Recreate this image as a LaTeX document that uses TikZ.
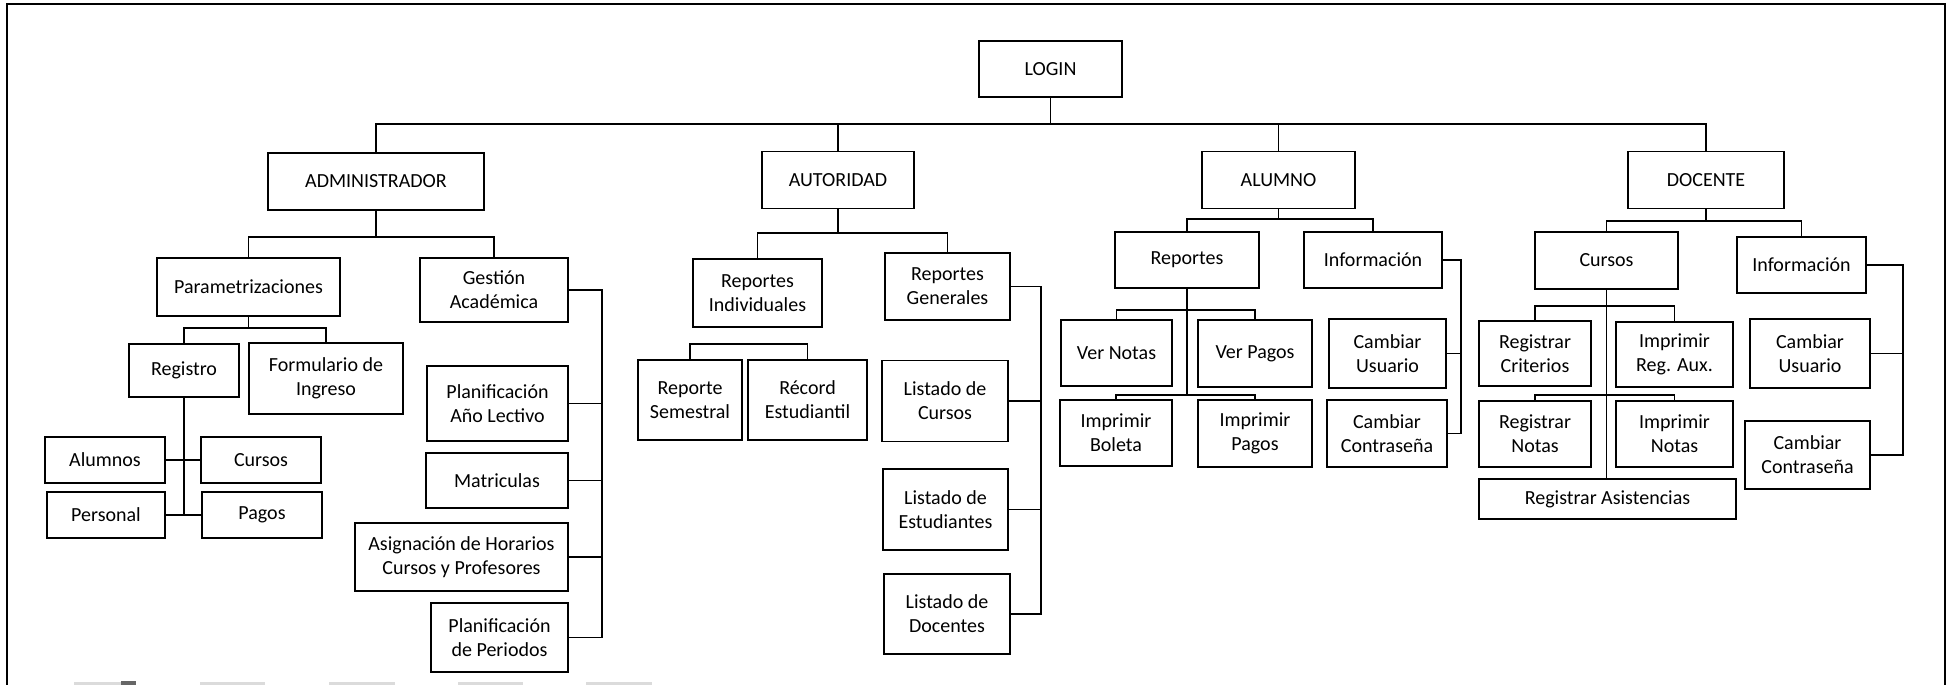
\documentclass[tikz,border=0pt]{standalone}
\usepackage{fontspec}
\setmainfont{Carlito}
\begin{document}
\begin{tikzpicture}[x=0.5pt,y=-0.5pt,
  box/.style={draw,line width=0.9pt,align=center,inner sep=0pt,
    font=\fontsize{10}{12}\selectfont},
  wh/.style 2 args={minimum width=#1*0.5pt,minimum height=#2*0.5pt},
  link/.style={line width=0.75pt},
  frame/.style={line width=1pt},
  stub/.style={fill=black!14}]
\useasboundingbox (0,0) rectangle (1954,685);

% page frame (open at the bottom)
\draw[frame] (7,685) -- (7,4) -- (1945,4) -- (1945,685);
% bits of the next row cut off at the lower edge
\fill[stub] (74,682) rectangle (134,685);
\fill[black!60] (121,681) rectangle (136,685);
\fill[stub] (200,682) rectangle (265,685);
\fill[stub] (329,682) rectangle (395,685);
\fill[stub] (458,682) rectangle (523,685);
\fill[stub] (586,682) rectangle (652,685);

% ---------- root and roles ----------
\node[box,wh={143}{56}] (login) at (1050.5,69) {LOGIN};
\node[box,wh={216}{57}] (admin) at (376,181.5) {ADMINISTRADOR};
\node[box,wh={152}{57}] (autor) at (838,180) {AUTORIDAD};
\node[box,wh={153}{57}] (alumno) at (1278.5,180) {ALUMNO};
\node[box,wh={156}{57}] (docente) at (1706,180) {DOCENTE};

\coordinate (b0) at (1050.5,124);
\draw[link] (login.south) -- (b0);
\draw[link] (admin.north) |- (b0) -| (docente.north);
\draw[link] (autor.north) -- (autor.north |- b0);
\draw[link] (alumno.north) -- (alumno.north |- b0);

% ---------- ADMINISTRADOR ----------
\node[box,wh={183}{58}] (param) at (248.5,287) {Parametrizaciones};
\node[box,wh={148}{64}] (gestion) at (494,290) {Gestión\\Académica};
\coordinate (b1) at (376,237);
\draw[link] (admin.south) -- (b1);
\draw[link] (param.north) |- (b1) -| (gestion.north);

\node[box,wh={110}{53}] (registro) at (184,370.5) {Registro};
\node[box,wh={154}{71}] (formulario) at (326,378.5) {Formulario de\\Ingreso};
\coordinate (b2) at (248.5,328);
\draw[link] (param.south) -- (b2);
\draw[link] (registro.north) |- (b2) -| (formulario.north);

\node[box,wh={120}{46}] (alumnos) at (105,460) {Alumnos};
\node[box,wh={120}{46}] (cursosA) at (261,460) {Cursos};
\node[box,wh={118}{46}] (personal) at (106,515) {Personal};
\node[box,wh={120}{46}] (pagos) at (262,515) {Pagos};
\draw[link] (registro.south) -- (registro.south |- personal.east);
\draw[link] (alumnos.east) -- (cursosA.west);
\draw[link] (personal.east) -- (pagos.west);

\node[box,wh={141}{75}] (planAL) at (497.5,403.5) {Planificación\\Año Lectivo};
\node[box,wh={142}{55}] (matric) at (497,480.5) {Matriculas};
\node[box,wh={213}{68}] (asign) at (461.5,557) {Asignación de Horarios\\Cursos y Profesores};
\node[box,wh={137}{69}] (planPer) at (499.5,637.5) {Planificación\\de Periodos};
\coordinate (gx) at (602,0);
\draw[link] (gestion.east) -- (gestion.east -| gx) |- (planPer.east);
\draw[link] (planAL.east) -- (planAL.east -| gx);
\draw[link] (matric.east) -- (matric.east -| gx);
\draw[link] (asign.east) -- (asign.east -| gx);

% ---------- AUTORIDAD ----------
\node[box,wh={129}{68}] (repInd) at (757.5,293) {Reportes\\Individuales};
\node[box,wh={125}{67}] (repGen) at (947.5,286.5) {Reportes\\Generales};
\coordinate (b3) at (838,233);
\draw[link] (autor.south) -- (b3);
\draw[link] (repInd.north) |- (b3) -| (repGen.north);

\node[box,wh={104}{80}] (repSem) at (690,400) {Reporte\\Semestral};
\node[box,wh={119}{80}] (record) at (807.5,400) {Récord\\Estudiantil};
\coordinate (b4) at (748,344);
\draw[link] (repSem.north) |- (b4) -| (record.north);

\node[box,wh={126}{81}] (lisCur) at (945,401) {Listado de\\Cursos};
\node[box,wh={125}{81}] (lisEst) at (945.5,509.5) {Listado de\\Estudiantes};
\node[box,wh={126}{80}] (lisDoc) at (947,614) {Listado de\\Docentes};
\coordinate (rx) at (1041,0);
\draw[link] (repGen.east) -- (repGen.east -| rx) |- (lisDoc.east);
\draw[link] (lisCur.east) -- (lisCur.east -| rx);
\draw[link] (lisEst.east) -- (lisEst.east -| rx);

% ---------- ALUMNO ----------
\node[box,wh={144}{56}] (reportes) at (1187,260) {Reportes};
\node[box,wh={138}{56}] (info) at (1373,260) {Información};
\coordinate (b5) at (1278.5,219);
\draw[link] (alumno.south) -- (b5);
\draw[link] (reportes.north) |- (b5) -| (info.north);

\node[box,wh={111}{66}] (verNotas) at (1116.5,353) {Ver Notas};
\node[box,wh={114}{67}] (verPagos) at (1255,353.5) {Ver Pagos};
\node[box,wh={112}{66}] (impBol) at (1116,433) {Imprimir\\Boleta};
\node[box,wh={114}{67}] (impPag) at (1255,433.5) {Imprimir\\Pagos};
\coordinate (b6) at (1187,310);
\coordinate (b7) at (1187,395);
\draw[link] (reportes.south) -- (b7);
\draw[link] (verNotas.north) |- (b6) -| (verPagos.north);
\draw[link] (impBol.north) |- (b7) -| (impPag.north);

\node[box,wh={117}{69}] (camUsu) at (1387.5,353.5) {Cambiar\\Usuario};
\node[box,wh={120}{67}] (camCon) at (1387,433.5) {Cambiar\\Contraseña};
\coordinate (ix) at (1461,0);
\draw[link] (info.east) -- (info.east -| ix) |- (camCon.east);
\draw[link] (camUsu.east) -- (camUsu.east -| ix);

% ---------- DOCENTE ----------
\node[box,wh={143}{57}] (cursosD) at (1606.5,260.5) {Cursos};
\node[box,wh={129}{56}] (infoD) at (1801.5,265) {Información};
\coordinate (b8) at (1706,221);
\draw[link] (docente.south) -- (b8);
\draw[link] (cursosD.north) |- (b8) -| (infoD.north);

\node[box,wh={112}{65}] (regCri) at (1535,353.5) {Registrar\\Criterios};
\node[box,wh={117}{65}] (impReg) at (1674.5,354.5) {Imprimir\\Reg. Aux.};
\node[box,wh={112}{66}] (regNot) at (1535,434) {Registrar\\Notas};
\node[box,wh={117}{66}] (impNot) at (1674.5,434) {Imprimir\\Notas};
\node[box,wh={257}{40}] (regAsi) at (1607.5,499) {Registrar Asistencias};
\coordinate (b9) at (1606.5,306);
\coordinate (b10) at (1606.5,395);
\draw[link] (cursosD.south) -- (cursosD.south |- regAsi.north);
\draw[link] (regCri.north) |- (b9) -| (impReg.north);
\draw[link] (regNot.north) |- (b10) -| (impNot.north);

\node[box,wh={120}{69}] (camUsuD) at (1810,353.5) {Cambiar\\Usuario};
\node[box,wh={125}{68}] (camConD) at (1807.5,455) {Cambiar\\Contraseña};
\coordinate (dx) at (1903,0);
\draw[link] (infoD.east) -- (infoD.east -| dx) |- (camConD.east);
\draw[link] (camUsuD.east) -- (camUsuD.east -| dx);
\end{tikzpicture}
\end{document}
